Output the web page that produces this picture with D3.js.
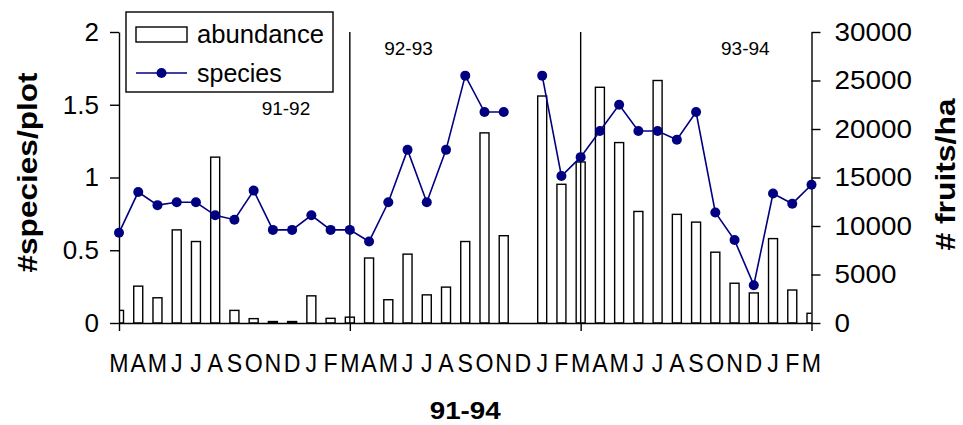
<!DOCTYPE html>
<html>
<head>
<meta charset="utf-8">
<script src="https://cdn.jsdelivr.net/npm/d3@7"></script>
<style>
  body { margin: 0; background: #fff; }
  text { font-family: "Liberation Sans", Arial, sans-serif; }
</style>
</head>
<body>
<div id="chart"></div>
<script>
var width = 963, height = 425;

// Mar 1991 .. Mar 1994, one value per month
var months = ["M","A","M","J","J","A","S","O","N","D","J","F",
              "M","A","M","J","J","A","S","O","N","D","J","F",
              "M","A","M","J","J","A","S","O","N","D","J","F","M"];
var abundance = [1300, 3800, 2600, 9600, 8400, 17100, 1300, 450, 150, 150, 2800, 480,
                 600, 6700, 2400, 7100, 2900, 3700, 8400, 19600, 9000, null, 23400, 14300,
                 16600, 24300, 18600, 11500, 25000, 11200, 10400, 7300, 4100, 3100, 8700, 3400, 1000];
var species = [0.62, 0.90, 0.81, 0.83, 0.83, 0.74, 0.71, 0.91, 0.64, 0.64, 0.74, 0.64,
               0.64, 0.56, 0.83, 1.19, 0.83, 1.19, 1.70, 1.45, 1.45, null, 1.70, 1.01,
               1.14, 1.32, 1.50, 1.32, 1.32, 1.26, 1.45, 0.76, 0.57, 0.26, 0.89, 0.82, 0.95];
var yearStarts = [12, 24];            // separators at March 92 / March 93
var periods = ["91-92", "92-93", "93-94"];
var periodX = [8.68, 15.05, 32.56];   // month index of label centre
var periodY = [1.43, 1.84, 1.84];     // label baseline in #species units
var leftTicks = [0, 0.5, 1, 1.5, 2];
var rightTicks = [0, 5000, 10000, 15000, 20000, 25000, 30000];

var margin = { left: 119, right: 151.5, top: 32, bottom: 102 };
var navy = "#000080";

var x = d3.scaleLinear().domain([0, months.length - 1]).range([margin.left, width - margin.right]);
var yL = d3.scaleLinear().domain([0, 2]).range([height - margin.bottom, margin.top]);
var yR = d3.scaleLinear().domain([0, 30000]).range([height - margin.bottom, margin.top]);
var barW = 9;

var svg = d3.select("#chart").append("svg").attr("width", width).attr("height", height);
svg.append("rect").attr("width", width).attr("height", height).attr("fill", "#fff");

svg.append("clipPath").attr("id", "plotclip")
    .append("rect")
    .attr("x", x.range()[0]).attr("y", 0)
    .attr("width", x.range()[1] - x.range()[0]).attr("height", yL(0));

// stretch / squeeze text horizontally like the original export
function squeeze(sel, k) {
    sel.each(function () {
        var w = this.getComputedTextLength();
        d3.select(this).attr("textLength", w * k).attr("lengthAdjust", "spacingAndGlyphs");
    });
}

// bars
svg.append("g").attr("clip-path", "url(#plotclip)")
    .selectAll("rect")
    .data(abundance.map(function (v, i) { return { i: i, v: v }; }).filter(function (d) { return d.v != null; }))
    .enter().append("rect")
    .attr("x", function (d) { return x(d.i) - barW / 2; })
    .attr("y", function (d) { return yR(d.v); })
    .attr("width", barW)
    .attr("height", function (d) { return yR(0) - yR(d.v); })
    .attr("fill", "#fff")
    .attr("stroke", "#000")
    .attr("stroke-width", 1.4);

// year separators
svg.append("g").selectAll("line")
    .data(yearStarts)
    .enter().append("line")
    .attr("x1", x).attr("x2", x)
    .attr("y1", yL(2)).attr("y2", yL(0))
    .attr("stroke", "#000").attr("stroke-width", 1.4);

function styleAxis(g, size) {
    g.attr("font-family", null).attr("font-size", null);
    g.selectAll("path, line").attr("stroke", "#000").attr("stroke-width", 1.4);
    g.selectAll("text").style("font-size", size + "px").attr("fill", "#000");
}

var axL = svg.append("g")
    .attr("transform", "translate(" + x.range()[0] + ",0)")
    .call(d3.axisLeft(yL).tickValues(leftTicks).tickSize(9).tickSizeOuter(0).tickPadding(11).tickFormat(String));
styleAxis(axL, 26);

var axR = svg.append("g")
    .attr("transform", "translate(" + x.range()[1] + ",0)")
    .call(d3.axisRight(yR).tickValues(rightTicks).tickSize(9).tickSizeOuter(0).tickPadding(14).tickFormat(String));
styleAxis(axR, 26);
squeeze(axR.selectAll("text"), 1.07);

var axB = svg.append("g")
    .attr("transform", "translate(0," + yL(0) + ")")
    .call(d3.axisBottom(x).tickValues([0, 12, 24, 36]).tickSize(8).tickSizeOuter(0).tickFormat(""));
styleAxis(axB, 10);

// month labels
svg.append("g").selectAll("text")
    .data(months)
    .enter().append("text")
    .attr("x", function (d, i) { return x(i); })
    .attr("y", yL(0) + 49)
    .attr("text-anchor", "middle")
    .style("font-size", "26px")
    .text(function (d) { return d; })
    .call(squeeze, 0.89);

// species line
var line = d3.line()
    .defined(function (d) { return d != null; })
    .x(function (d, i) { return x(i); })
    .y(function (d) { return yL(d); });

svg.append("path")
    .datum(species)
    .attr("d", line)
    .attr("fill", "none")
    .attr("stroke", navy)
    .attr("stroke-width", 1.6);

svg.append("g").selectAll("circle")
    .data(species.map(function (v, i) { return { i: i, v: v }; }).filter(function (d) { return d.v != null; }))
    .enter().append("circle")
    .attr("cx", function (d) { return x(d.i); })
    .attr("cy", function (d) { return yL(d.v); })
    .attr("r", 5)
    .attr("fill", navy);

// period labels
svg.append("g").selectAll("text")
    .data(periods)
    .enter().append("text")
    .attr("x", function (d, i) { return x(periodX[i]); })
    .attr("y", function (d, i) { return yL(periodY[i]); })
    .attr("text-anchor", "middle")
    .style("font-size", "19px")
    .text(function (d) { return d; });

// axis titles
svg.append("text")
    .attr("transform", "translate(37," + (yL(1) - 5) + ") rotate(-90)")
    .attr("text-anchor", "middle")
    .style("font-size", "27px").style("font-weight", "bold")
    .attr("textLength", 200).attr("lengthAdjust", "spacingAndGlyphs")
    .text("#species/plot");

svg.append("text")
    .attr("transform", "translate(955," + (yR(15000) - 3) + ") rotate(-90)")
    .attr("text-anchor", "middle")
    .style("font-size", "27px").style("font-weight", "bold")
    .attr("textLength", 152).attr("lengthAdjust", "spacingAndGlyphs")
    .text("# fruits/ha");

svg.append("text")
    .attr("x", (x.range()[0] + x.range()[1]) / 2)
    .attr("y", 419)
    .attr("text-anchor", "middle")
    .style("font-size", "24px").style("font-weight", "bold")
    .attr("textLength", 71).attr("lengthAdjust", "spacingAndGlyphs")
    .text("91-94");

// legend
var legend = svg.append("g").attr("transform", "translate(126,12)");
legend.append("rect")
    .attr("width", 207).attr("height", 80)
    .attr("fill", "#fff").attr("stroke", "#000").attr("stroke-width", 1.4);
legend.append("rect")
    .attr("x", 10).attr("y", 15).attr("width", 51).attr("height", 15)
    .attr("fill", "#fff").attr("stroke", "#000").attr("stroke-width", 1.4);
legend.append("text")
    .attr("x", 71).attr("y", 31)
    .style("font-size", "25px")
    .attr("textLength", 127).attr("lengthAdjust", "spacingAndGlyphs")
    .text("abundance");
legend.append("line")
    .attr("x1", 10).attr("x2", 61).attr("y1", 61).attr("y2", 61)
    .attr("stroke", navy).attr("stroke-width", 1.6);
legend.append("circle")
    .attr("cx", 35.5).attr("cy", 61).attr("r", 5).attr("fill", navy);
legend.append("text")
    .attr("x", 71).attr("y", 70)
    .style("font-size", "25px")
    .text("species");
</script>
</body>
</html>
